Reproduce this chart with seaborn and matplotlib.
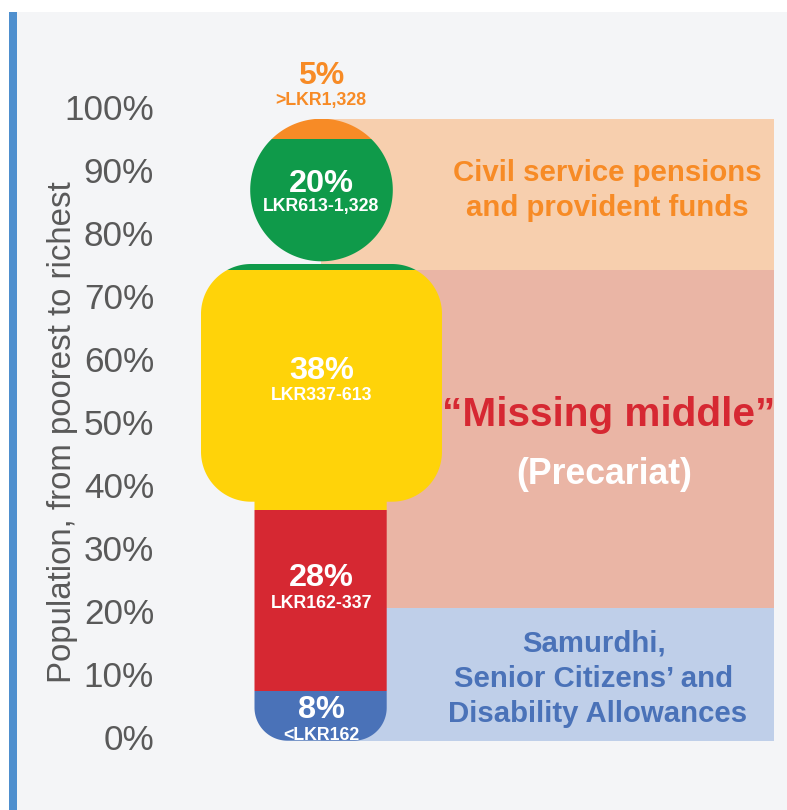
import numpy as np
import matplotlib
matplotlib.use("Agg")
import matplotlib.pyplot as plt
from matplotlib.patches import Rectangle
from matplotlib.path import Path
import pandas as pd
import seaborn as sns

# ---- data ----------------------------------------------------------------
tick_values = [0, 10, 20, 30, 40, 50, 60, 70, 80, 90, 100]
tick_labels = ["0%", "10%", "20%", "30%", "40%", "50%", "60%", "70%", "80%", "90%", "100%"]
y_title = "Population, from poorest to richest"

segment_names = ["lowest", "low", "middle", "upper", "top"]
segment_bottom = [-0.6, 7.35, 36.1, 74.2, 94.9]
segment_top = [7.35, 36.1, 74.2, 94.9, 98.1]
segment_colors = ["#4A72B8", "#D62832", "#FFD309", "#0F9A4A", "#F78B26"]

band_bottom = [-0.6, 20.5, 74.2]
band_top = [20.5, 74.2, 98.1]
band_colors = ["#BFCFE9", "#EAB5A5", "#F7CFAE"]

# ---- layout helpers (pixels of the 787x810 canvas) ------------------------
W, H = 787, 810
AX_L = 170
PX_0, PX_100 = 737.0, 107.0
PER = (PX_0 - PX_100) / 100.0
CX, BODY_W = 321.5, 241.0


def xd(px):
    return (px - CX) / BODY_W


def yd(py):
    return (PX_0 - py) / PER


sns.set_theme(style="white")
plt.rcParams["font.family"] = ["Liberation Sans", "DejaVu Sans"]

fig = plt.figure(figsize=(W / 100, H / 100), dpi=100, facecolor="white")
fig.add_artist(Rectangle((17 / W, 0), (W - 17) / W, (H - 12) / H, transform=fig.transFigure,
                         facecolor="#F4F5F7", edgecolor="none", zorder=-5))
fig.add_artist(Rectangle((9 / W, 0), 8 / W, (H - 12) / H, transform=fig.transFigure,
                         facecolor="#4E8FCE", edgecolor="none", zorder=-4))

ax = fig.add_axes([AX_L / W, 0, (W - AX_L) / W, 1])
ax.set_facecolor("none")

# background bands
for lo, hi, col in zip(band_bottom, band_top, band_colors):
    ax.barh(lo, xd(774) - xd(321), left=xd(321), height=hi - lo, align="edge",
            color=col, linewidth=0, zorder=0.5)


# person silhouette as a clip path
def arc(cx, cy, r, a0, a1, n=40):
    t = np.radians(np.linspace(a0, a1, n))
    return np.column_stack([cx + r * np.cos(t), cy + r * np.sin(t)])


BL, BR, BT, BB, BR_R = 201.0, 442.0, 264.0, 501.7, 50.0
LL, LR, LB, LEG_R = 254.5, 386.7, 740.7, 33.0
# pixel coordinates, y down
outline = np.vstack([
    arc(BL + BR_R, BT + BR_R, BR_R, 180, 270),
    arc(BR - BR_R, BT + BR_R, BR_R, 270, 360),
    arc(BR - BR_R, BB - BR_R, BR_R, 0, 90),
    [[LR, BB]],
    arc(LR - LEG_R, LB - LEG_R, LEG_R, 0, 90),
    arc(LL + LEG_R, LB - LEG_R, LEG_R, 90, 180),
    [[LL, BB]],
    arc(BL + BR_R, BB - BR_R, BR_R, 90, 180),
    [[BL, BT + BR_R]],
])
head = arc(321.5, 190.0, 71.3, 0, 360, 180)


def to_path(pts):
    return Path(np.column_stack([xd(pts[:, 0]), yd(pts[:, 1])]), closed=False)


person = Path.make_compound_path(to_path(outline), to_path(head))

frame = pd.DataFrame({
    "person": ["all"] * len(segment_names),
    "height": np.subtract(segment_top, segment_bottom),
    "bottom": segment_bottom,
    "color": segment_colors,
})
for _, row in frame.iterrows():
    sns.barplot(x=[row["person"]], y=[row["height"]], bottom=row["bottom"],
                color=row["color"], saturation=1, width=1, linewidth=0, ax=ax, zorder=2)
    for bar in ax.containers[-1]:
        bar.set_clip_path(person, ax.transData)
        bar.set_antialiased(True)

ax.set_xlim(xd(AX_L), xd(W))
ax.set_ylim(yd(H), yd(0))
ax.set_xticks([])
ax.set_xlabel("")
ax.set_yticks(tick_values)
ax.set_yticklabels(tick_labels, va="center_baseline")
ax.tick_params(axis="y", length=0, pad=11.5, labelsize=25.3, labelcolor="#595959")
ax.grid(False)
sns.despine(ax=ax, left=True, bottom=True)
ax.set_ylabel(y_title, fontsize=23.8, color="#595959")
ax.yaxis.set_label_coords((78 - AX_L) / (W - AX_L), 1 - 432.5 / H)

# ---- text -----------------------------------------------------------------
ORANGE, WHITE = "#F78B26", "white"
labels = [
    ("5%", 321, 73, 23, ORANGE),
    (">LKR1,328", 321, 99, 12.8, ORANGE),
    ("20%", 321.5, 180, 23.4, WHITE),
    ("LKR613-1,328", 321.5, 204, 12.8, WHITE),
    ("38%", 321.5, 367, 23.4, WHITE),
    ("LKR337-613", 321.5, 393, 12.8, WHITE),
    ("28%", 321.5, 575, 23.4, WHITE),
    ("LKR162-337", 321.5, 601, 12.8, WHITE),
    ("8%", 321.5, 707, 23.4, WHITE),
    ("<LKR162", 321.5, 733, 12.8, WHITE),
    ("Civil service pensions", 607, 170, 21.2, ORANGE),
    ("and provident funds", 607, 205, 21.2, ORANGE),
    ("\u201cMissing middle\u201d", 609, 411, 29.2, "#D62832"),
    ("(Precariat)", 604, 470, 25.7, WHITE),
    ("Samurdhi,", 594, 640, 21.2, "#4A72B8"),
    ("Senior Citizens\u2019 and", 594, 676, 21.2, "#4A72B8"),
    ("Disability Allowances", 598, 711, 21.2, "#4A72B8"),
]
for txt, px, py, size, col in labels:
    ax.text(xd(px), yd(py), txt, ha="center", va="center_baseline", fontsize=size,
            fontweight="bold", color=col, zorder=5)

fig.savefig("out.png", dpi=100, facecolor=fig.get_facecolor())
